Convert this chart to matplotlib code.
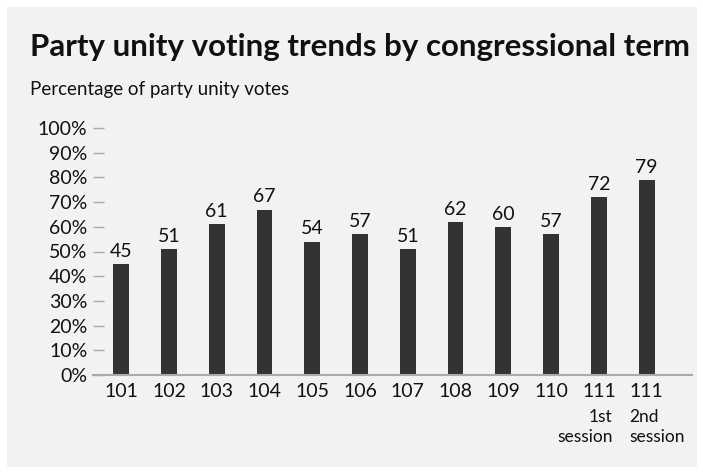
import matplotlib
matplotlib.use("Agg")
import matplotlib.pyplot as plt
from matplotlib.patches import Rectangle
from matplotlib.transforms import blended_transform_factory

plt.rcParams['font.family'] = ['Lato', 'DejaVu Sans']

terms = ["101", "102", "103", "104", "105", "106", "107", "108", "109", "110", "111", "111"]
values = [45, 51, 61, 67, 54, 57, 51, 62, 60, 57, 72, 79]
yticks = [0, 10, 20, 30, 40, 50, 60, 70, 80, 90, 100]
ytick_labels = [f"{t}%" for t in yticks]
session_notes = {10: ("1st\nsession", "right", 0.29), 11: ("2nd\nsession", "left", -0.37)}

W, H = 703, 474
fig = plt.figure(figsize=(W / 100, H / 100), dpi=100, facecolor="white")
fig.patches.append(Rectangle((7 / W, 7 / H), (697 - 7) / W, (467 - 7) / H,
                             transform=fig.transFigure, facecolor="#f2f2f2",
                             edgecolor="none", zorder=-10))

ax = fig.add_axes([93 / W, (H - 375) / H, (692 - 93) / W, (375 - 128) / H])
ax.set_zorder(1)
ax.set_facecolor("none")
x = list(range(len(values)))
ax.bar(x, values, width=0.33, color="#333333", zorder=2)
for xi, v in zip(x, values):
    ax.annotate(str(v), (xi, v), xytext=(0, 3), textcoords="offset points",
                ha="center", va="bottom", fontsize=14, color="#111111")

ax.set_xlim(-0.59, 11.95)
ax.set_ylim(0, 100)
ax.set_yticks(yticks)
ax.set_yticklabels(ytick_labels, fontsize=14, color="#111111")
ax.set_xticks(x)
ax.set_xticklabels(terms, fontsize=14, color="#111111")
ax.tick_params(axis="y", direction="in", length=8, width=1, color="#aaaaaa", pad=4)
ax.tick_params(axis="x", length=0, pad=6)
for s in ["top", "right", "left"]:
    ax.spines[s].set_visible(False)
ax.spines["bottom"].set_color("#aaaaaa")
ax.spines["bottom"].set_linewidth(1.5)

trans = blended_transform_factory(ax.transData, fig.transFigure)
for i, (txt, ha, dx) in session_notes.items():
    ax.text(i + dx, (H - 409) / H, txt, transform=trans, ha=ha, va="top",
            multialignment=ha, fontsize=12.5, color="#111111", linespacing=1.3,
            clip_on=False)

fig.text(30 / W, (H - 56) / H, "Party unity voting trends by congressional term",
         fontsize=22.5, fontweight="bold", color="#111111", ha="left", va="baseline")
fig.text(30 / W, (H - 95) / H, "Percentage of party unity votes",
         fontsize=13.5, color="#111111", ha="left", va="baseline")

fig.savefig("out.png", dpi=100, facecolor="white")
